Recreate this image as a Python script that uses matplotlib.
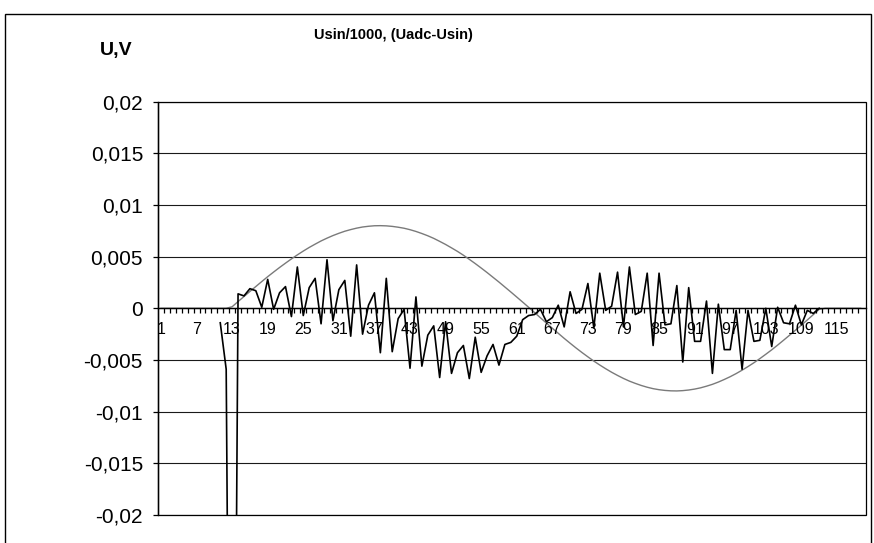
import numpy as np
import matplotlib
matplotlib.use("Agg")
import matplotlib.pyplot as plt
from matplotlib.patches import Rectangle
from matplotlib.ticker import FixedLocator, FixedFormatter, NullFormatter

plt.rcParams['font.family'] = ['Liberation Sans', 'DejaVu Sans']

# sample index (category axis)
categories = list(range(1, 120))
x_tick_values = list(range(1, 120, 6))
x_tick_labels = [str(v) for v in x_tick_values]

y_tick_values = [0.02, 0.015, 0.01, 0.005, 0.0, -0.005, -0.01, -0.015, -0.02]
y_tick_labels = ["0,02", "0,015", "0,01", "0,005", "0",
                 "-0,005", "-0,01", "-0,015", "-0,02"]

# reference sine, Usin/1000 (V)
usin_scaled = (
    [0.0] * 12 +
    [0.00015, 0.00065, 0.00114, 0.00163, 0.00211, 0.00259, 0.00306, 0.00351,
     0.00395, 0.00437, 0.00478, 0.00517, 0.00554, 0.00589, 0.00621, 0.00652,
     0.00679, 0.00704, 0.00726, 0.00746, 0.00762, 0.00776, 0.00787, 0.00794,
     0.00799, 0.00800, 0.00798, 0.00793, 0.00785, 0.00775, 0.00761, 0.00744,
     0.00724, 0.00702, 0.00677, 0.00648, 0.00618, 0.00585, 0.00551, 0.00514,
     0.00474, 0.00433, 0.00390, 0.00346, 0.00300, 0.00254, 0.00206, 0.00158,
     0.00109, 0.00060, 0.00010,
     -0.00041, -0.00092, -0.00143, -0.00193, -0.00242, -0.00291, -0.00338,
     -0.00384, -0.00428, -0.00470, -0.00511, -0.00549, -0.00585, -0.00619,
     -0.00650, -0.00679, -0.00705, -0.00727, -0.00747, -0.00764, -0.00778,
     -0.00788, -0.00795, -0.00799, -0.00800, -0.00797, -0.00791, -0.00782,
     -0.00770, -0.00754, -0.00736, -0.00714, -0.00689, -0.00662, -0.00632,
     -0.00599, -0.00564, -0.00527, -0.00487, -0.00445, -0.00402, -0.00356,
     -0.00309, -0.00261, -0.00212, -0.00163, -0.00113, -0.00062, -0.00010] +
    [0.0] * 7
)

# conversion error, Uadc - Usin (V)
adc_error = (
    [np.nan] * 10 +
    [-0.0014, -0.0059, -0.0850, 0.0014, 0.0012, 0.0019, 0.0017, 0.0001,
     0.0028, -0.0001, 0.0015, 0.0021, -0.0008, 0.0040, -0.0007, 0.0020,
     0.0029, -0.0015, 0.0047, -0.0012, 0.0018, 0.0027, -0.0027, 0.0042,
     -0.0025, 0.0003, 0.0015, -0.0043, 0.0029, -0.0042, -0.0010, -0.0001,
     -0.0058, 0.0011, -0.0056, -0.0026, -0.0017, -0.0067, -0.0013, -0.0063,
     -0.0043, -0.0036, -0.0068, -0.0028, -0.0062, -0.0046, -0.0035, -0.0055,
     -0.0035, -0.0033, -0.0027, -0.0011, -0.0007, -0.0006, -0.0001, -0.0013,
     -0.0009, 0.0003, -0.0018, 0.0016, -0.0005, -0.0001, 0.0024, -0.0019,
     0.0034, -0.0002, 0.0002, 0.0035, -0.0018, 0.0040, -0.0006, -0.0003,
     0.0034, -0.0036, 0.0034, -0.0016, -0.0015, 0.0022, -0.0052, 0.0020,
     -0.0032, -0.0032, 0.0007, -0.0063, 0.0004, -0.0040, -0.0040, -0.0002,
     -0.0059, -0.0002, -0.0032, -0.0031, 0.0000, -0.0037, 0.0001, -0.0014,
     -0.0015, 0.0003, -0.0016, -0.0002, -0.0005, 0.0000] +
    [np.nan] * 7
)

W, H = 874, 543
fig = plt.figure(figsize=(W / 100, H / 100), dpi=100)
fig.patch.set_facecolor("white")

# chart area border
fig.add_artist(Rectangle((5 / W, -0.01), 866 / W, (H - 14) / H + 0.01,
                         transform=fig.transFigure, fill=False,
                         edgecolor="black", lw=1.0))

ax_left, ax_right, ax_top, ax_bottom = 158, 866, 101.7, 514.9
ax = fig.add_axes([ax_left / W, (H - ax_bottom) / H,
                   (ax_right - ax_left) / W, (ax_bottom - ax_top) / H])
ax.set_facecolor("white")
ax.set_xlim(0.5, 119.9)
ax.set_ylim(-0.02, 0.02)

# horizontal gridlines
for v in y_tick_values:
    ax.axhline(v, color="#1a1a1a", lw=0.8, zorder=1)

# plot area border
ax.add_patch(Rectangle((0, 0), 1, 1, transform=ax.transAxes, fill=False,
                       edgecolor="black", lw=0.9, zorder=2, clip_on=False))

for side in ("top", "right"):
    ax.spines[side].set_visible(False)
ax.spines["left"].set_linewidth(1.0)
ax.spines["bottom"].set_position(("data", 0))
ax.spines["bottom"].set_linewidth(1.0)
ax.spines["bottom"].set_zorder(3.5)
ax.xaxis.set_zorder(3.5)

# y axis
ax.yaxis.set_major_locator(FixedLocator(y_tick_values))
ax.yaxis.set_major_formatter(FixedFormatter(y_tick_labels))
ax.tick_params(axis="y", direction="out", length=3.6, width=0.9,
               pad=7.2, labelsize=15)

# x axis: labels every sixth sample, marks at every category boundary
ax.xaxis.set_major_locator(FixedLocator(x_tick_values))
ax.xaxis.set_major_formatter(FixedFormatter(x_tick_labels))
ax.xaxis.set_minor_locator(FixedLocator([k + 0.5 for k in range(1, 119)]))
ax.xaxis.set_minor_formatter(NullFormatter())
ax.tick_params(axis="x", which="major", length=0, pad=10, labelsize=11.5)
ax.tick_params(axis="x", which="minor", direction="out", length=3.6,
               width=0.9)

ax.plot(categories, usin_scaled, color="#7a7a7a", lw=1.0, zorder=3)
ax.plot(categories, adc_error, color="black", lw=1.2, zorder=4)

fig.text(393 / W, 1 - 35 / H, "Usin/1000, (Uadc-Usin)", ha="center",
         va="center", fontsize=10.5, fontweight="bold")
fig.text(116 / W, 1 - 50 / H, "U,V", ha="center", va="center",
         fontsize=14, fontweight="bold")

fig.savefig("out.png", dpi=100)
